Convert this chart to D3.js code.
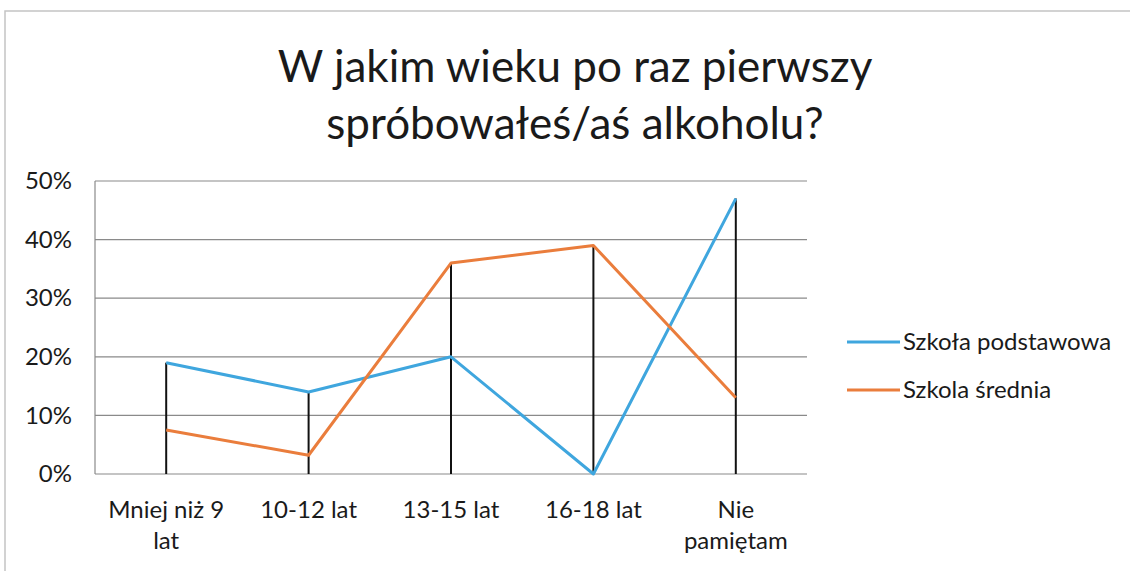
<!DOCTYPE html>
<html>
<head>
<meta charset="utf-8">
<script src="https://cdn.jsdelivr.net/npm/d3@7"></script>
<style>
  html, body { margin: 0; padding: 0; background: #fff; }
  svg { display: block; }
  text { font-family: Lato, "Open Sans", sans-serif; fill: #1a1a1a; }
</style>
</head>
<body>
<svg id="chart" width="1130" height="571"></svg>
<script>
// Age at first alcohol, share of respondents per school type
const categories = [["Mniej niż 9", "lat"], ["10-12 lat"], ["13-15 lat"], ["16-18 lat"], ["Nie", "pamiętam"]];
const seriesNames = ["Szkoła podstawowa", "Szkola średnia"];
const podstawowa = [0.19, 0.14, 0.20, 0.00, 0.47];
const srednia = [0.075, 0.032, 0.36, 0.39, 0.13];
const yTicks = [0, 0.1, 0.2, 0.3, 0.4, 0.5];
const titleLines = ["W jakim wieku po raz pierwszy", "spróbowałeś/aś alkoholu?"];
const colors = ["#3fa6de", "#ea7d3c"];

const svg = d3.select("#chart");
const margin = { left: 95, right: 323, top: 181, bottom: 97 };
const W = 1130, H = 571;

// faint frame
svg.append("path")
  .attr("d", `M5,${H} V11 H${W}`)
  .attr("fill", "none").attr("stroke", "#c4c4c4").attr("stroke-width", 1.5);

const x = d3.scaleBand()
  .domain(categories.map((c, i) => i))
  .range([margin.left, W - margin.right]);
const y = d3.scaleLinear().domain([0, 0.5]).range([H - margin.bottom, margin.top]);

// title
svg.append("text")
  .attr("text-anchor", "middle")
  .style("font-size", "44px")
  .selectAll("tspan").data(titleLines).join("tspan")
  .attr("x", 575).attr("y", (d, i) => 82 + i * 57)
  .text(d => d);

// gridlines
svg.append("g").selectAll("line").data(yTicks).join("line")
  .attr("x1", margin.left).attr("x2", W - margin.right)
  .attr("y1", d => y(d)).attr("y2", d => y(d))
  .attr("stroke", "#8a8a8a").attr("stroke-width", 1.2);

// left edge of the plot area
svg.append("line")
  .attr("x1", margin.left).attr("x2", margin.left)
  .attr("y1", y(0.5)).attr("y2", y(0))
  .attr("stroke", "#8a8a8a").attr("stroke-width", 1.2);

// y axis labels
const yAxis = d3.axisLeft(y).tickValues(yTicks).tickFormat(d3.format(".0%")).tickSize(0).tickPadding(23);
const gy = svg.append("g").attr("transform", `translate(${margin.left},0)`).call(yAxis);
gy.select(".domain").remove();
gy.selectAll("text").style("font-size", "24px").style("font-family", "Lato, sans-serif").attr("fill", "#1a1a1a");

// category labels
const gx = svg.append("g");
categories.forEach((lines, i) => {
  const t = gx.append("text")
    .attr("text-anchor", "middle")
    .style("font-size", "24px");
  lines.forEach((s, j) => {
    t.append("tspan")
      .attr("x", x(i) + x.bandwidth() / 2)
      .attr("y", 518 + j * 31)
      .text(s);
  });
});

const cx = i => x(i) + x.bandwidth() / 2;

// drop lines from the higher value to the axis
svg.append("g").selectAll("line").data(categories.map((c, i) => i)).join("line")
  .attr("x1", cx).attr("x2", cx)
  .attr("y1", i => y(Math.max(podstawowa[i], srednia[i])))
  .attr("y2", y(0))
  .attr("stroke", "#111").attr("stroke-width", 2);

// series lines
const line = d3.line().x((d, i) => cx(i)).y(d => y(d));
[podstawowa, srednia].forEach((vals, k) => {
  svg.append("path")
    .datum(vals)
    .attr("d", line)
    .attr("fill", "none")
    .attr("stroke", colors[k])
    .attr("stroke-width", 3)
    .attr("stroke-linejoin", "round");
});

// legend
const legend = svg.append("g");
seriesNames.forEach((name, k) => {
  const ly = 342 + k * 48;
  legend.append("line")
    .attr("x1", 847).attr("x2", 900).attr("y1", ly).attr("y2", ly)
    .attr("stroke", colors[k]).attr("stroke-width", 3);
  legend.append("text")
    .attr("x", 903).attr("y", ly + 8)
    .style("font-size", "24px")
    .text(name);
});
</script>
</body>
</html>
